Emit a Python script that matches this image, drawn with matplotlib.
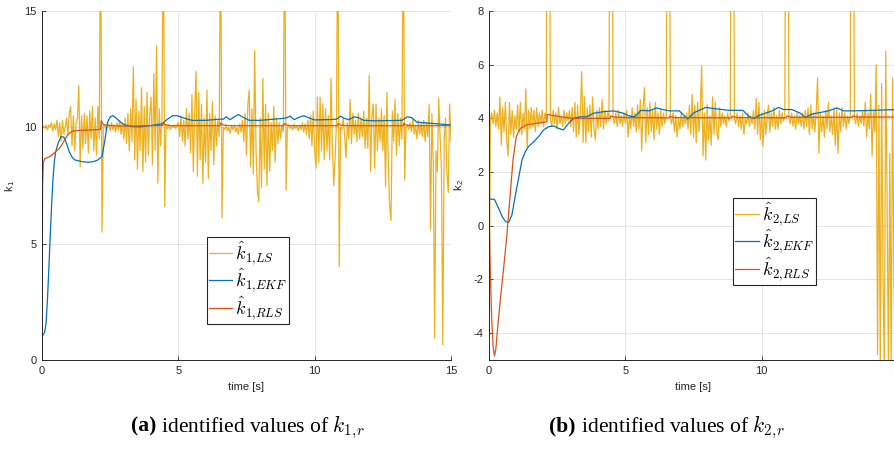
import numpy as np
import matplotlib
matplotlib.use('Agg')
import matplotlib.pyplot as plt
from matplotlib.offsetbox import TextArea, HPacker, AnchoredOffsetbox

plt.rcParams['font.family'] = ['Liberation Sans', 'DejaVu Sans']
plt.rcParams['mathtext.fontset'] = 'cm'
plt.rcParams['axes.unicode_minus'] = False

# least squares estimates, sampled every 0.05 s from 0 to 15 s
k1_ls = [
    10.0, 10.05, 9.95, 10.1, 9.9, 10.1, 10.0, 10.2, 9.85, 10.15, 9.9, 10.3, 9.6, 10.2, 9.4, 10.3, 9.7, 10.0, 10.4, 9.7,
    10.6, 10.9, 9.2, 10.5, 9.0, 10.2, 10.4, 11.8, 8.3, 10.5, 9.1, 10.6, 9.3, 10.5, 8.9, 10.7, 9.5, 10.9, 9.0, 10.4,
    8.8, 10.9, 9.5, 20.0, 5.5, 10.0, 10.1, 9.9, 10.05, 10.15, 9.85, 10.2, 9.9, 10.1, 9.8, 10.2, 9.9, 10.3, 9.7, 10.2,
    9.5, 10.4, 9.3, 10.6, 9.0, 10.8, 9.4, 12.6, 8.6, 11.2, 8.2, 10.7, 9.0, 11.7, 8.1, 10.9, 8.5, 11.5, 8.8, 10.5,
    11.3, 8.4, 12.3, 9.0, 13.5, 7.6, 10.8, 9.2, 10.4, 20.0, 6.6, 10.1, 9.95, 10.1, 9.9, 10.05, 10.0, 10.1, 9.95, 10.1,
    10.2, 9.6, 10.5, 9.4, 10.3, 9.2, 10.8, 9.5, 10.6, 8.9, 11.4, 8.1, 10.7, 12.4, 7.9, 11.5, 8.6, 11.0, 7.6, 10.4,
    8.5, 11.6, 7.8, 10.6, 9.0, 11.1, 8.4, 10.5, 9.2, 10.3, 9.6, 20.0, 6.1, 10.0, 9.9, 10.1, 9.85, 10.0, 9.75, 10.05,
    9.9, 10.1, 9.8, 10.0, 9.7, 10.15, 9.8, 10.3, 9.4, 10.6, 8.8, 11.0, 11.6, 8.3, 10.8, 8.0, 13.3, 9.0, 7.3, 6.8,
    10.4, 7.4, 12.1, 8.2, 11.0, 7.5, 10.6, 8.1, 10.2, 9.0, 10.9, 8.5, 10.4, 9.3, 10.2, 9.5, 10.1, 9.8, 20.0, 7.3,
    10.0, 10.1, 9.95, 10.05, 9.9, 10.15, 9.95, 10.05, 9.85, 10.1, 9.9, 10.2, 9.8, 10.15, 9.7, 10.3, 9.5, 10.5, 9.2, 10.7,
    9.0, 8.25, 11.3, 8.5, 11.3, 9.0, 11.0, 8.6, 10.8, 9.0, 10.5, 8.6, 12.1, 9.2, 7.5, 8.7, 10.3, 20.0, 4.0, 10.0,
    9.9, 10.4, 9.6, 8.7, 10.2, 9.5, 11.2, 9.3, 10.6, 9.7, 10.3, 9.4, 10.6, 9.5, 10.4, 9.6, 10.7, 9.1, 10.4, 9.1,
    12.25, 8.1, 10.5, 11.0, 8.25, 11.0, 9.0, 10.4, 9.4, 10.8, 9.0, 10.5, 7.45, 11.5, 8.5, 6.6, 6.0, 10.7, 9.4, 11.2,
    8.8, 10.6, 9.2, 10.4, 9.5, 20.0, 7.75, 10.0, 10.1, 9.9, 10.2, 9.8, 10.4, 9.7, 10.1, 9.5, 10.3, 9.7, 10.2, 9.6,
    10.3, 9.4, 10.2, 9.6, 11.0, 5.6, 10.6, 8.5, 0.95, 9.0, 8.1, 11.25, 9.6, 8.2, 0.65, 9.5, 10.4, 8.1, 7.2, 11.0,
    9.4,
]

k2_ls = [
    -6.0, 4.0, 4.2, 3.8, 4.3, 3.7, 4.2, 3.6, 4.8, 3.0, 4.4, 3.5, 4.6, 3.2, 2.6, 4.6, 3.4, 4.3, 3.3, 4.1,
    3.6, 4.5, 3.5, 4.6, 3.4, 4.2, 3.6, 5.1, 2.9, 4.3, 3.6, 4.4, 3.7, 4.3, 3.5, 4.4, 3.7, 4.2, 3.8, 4.3,
    3.7, 4.2, 3.9, 20.0, 20.0, 4.0, 3.7, 4.3, 3.8, 4.2, 3.6, 4.4, 3.8, 4.1, 3.7, 4.3, 3.8, 4.2, 3.9, 4.3,
    3.7, 4.4, 3.5, 4.6, 3.3, 4.5, 3.4, 4.2, 5.75, 3.1, 4.8, 3.1, 4.4, 3.5, 4.5, 3.3, 4.8, 3.6, 3.2, 4.3,
    3.6, 4.4, 3.7, 4.7, 3.6, 4.3, 3.8, 4.2, 3.9, 20.0, 20.0, 4.0, 3.8, 4.2, 3.7, 4.3, 3.8, 4.1, 3.7, 4.2,
    3.8, 4.3, 3.3, 4.1, 3.6, 4.4, 3.7, 4.2, 3.5, 4.5, 3.6, 4.7, 2.8, 4.4, 5.15, 3.1, 4.4, 3.4, 4.6, 3.5,
    4.3, 3.2, 4.6, 3.6, 4.2, 3.4, 4.3, 3.7, 4.2, 3.8, 4.1, 20.0, 20.0, 4.0, 3.8, 4.2, 3.5, 4.1, 3.3, 4.0,
    3.6, 4.2, 3.7, 4.1, 3.8, 4.2, 3.6, 4.5, 3.4, 4.9, 3.3, 4.5, 3.1, 4.6, 3.5, 4.4, 5.95, 2.6, 4.2, 2.45,
    4.5, 3.2, 4.1, 3.0, 4.8, 3.4, 4.6, 3.5, 3.2, 4.4, 3.7, 4.2, 3.8, 4.1, 3.7, 4.2, 3.9, 4.1, 20.0, 20.0,
    4.0, 3.8, 4.2, 3.7, 4.1, 3.6, 4.2, 3.4, 4.0, 3.8, 4.2, 3.7, 4.1, 3.8, 4.3, 3.6, 4.75, 3.4, 4.6, 3.2,
    4.2, 2.95, 4.3, 3.4, 4.1, 4.5, 3.5, 4.2, 3.7, 4.4, 3.6, 4.1, 3.6, 4.3, 3.8, 4.2, 3.9, 4.1, 20.0, 20.0,
    4.0, 3.8, 4.2, 3.7, 4.1, 3.6, 4.2, 3.8, 4.1, 3.7, 4.2, 3.6, 4.3, 3.7, 4.4, 3.4, 4.5, 3.6, 4.2, 3.5,
    4.3, 5.5, 2.7, 4.2, 3.5, 4.1, 3.3, 4.3, 3.6, 4.6, 3.5, 4.1, 3.4, 4.4, 3.0, 4.4, 2.7, 4.2, 3.5, 4.4,
    3.7, 4.2, 3.6, 4.1, 3.8, 4.1, 20.0, 20.0, 4.0, 3.8, 4.2, 3.7, 4.1, 3.8, 4.3, 3.7, 4.6, 3.3, 4.2, 3.6,
    4.9, 2.6, 4.3, 3.5, 6.0, -4.8, 4.5, -5.5, 5.3, -2.0, -5.5, 6.5, 1.0, -5.5, 2.7, -5.5, 5.5, -2.0, -5.5, 3.0,
    4.0,
]
t_ls = np.arange(len(k1_ls)) * 0.05

# extended kalman filter
t_ekf1 = [0, 0.1, 0.15, 0.2, 0.25, 0.3, 0.35, 0.4, 0.45, 0.5, 0.6, 0.7, 0.8, 0.9, 1.0, 1.1, 1.2, 1.35, 1.5,
          1.7, 1.9, 2.05, 2.2, 2.3, 2.4, 2.5, 2.6, 2.7, 2.85, 3.0, 3.3, 3.6, 4.0, 4.4, 4.6, 4.8, 4.95, 5.2,
          5.5, 6.0, 6.5, 6.65, 6.75, 6.9, 7.05, 7.2, 7.35, 7.6, 8.0, 8.5, 8.8, 8.95, 9.1, 9.25, 9.4, 9.6,
          9.8, 10.0, 10.5, 10.8, 10.95, 11.1, 11.25, 11.45, 11.6, 11.8, 12.2, 13.2, 13.4, 13.55, 13.75,
          14.0, 14.5, 15.0]
k1_ekf = [1.0, 1.2, 1.6, 2.6, 3.9, 5.3, 6.6, 7.7, 8.5, 8.95, 9.35, 9.6, 9.58, 9.3, 8.95, 8.72, 8.6, 8.56, 8.52,
          8.5, 8.53, 8.6, 8.75, 9.4, 10.2, 10.45, 10.5, 10.42, 10.25, 10.12, 10.03, 10.02, 10.08, 10.15,
          10.35, 10.5, 10.5, 10.4, 10.3, 10.3, 10.35, 10.35, 10.45, 10.33, 10.45, 10.55, 10.45, 10.3, 10.3,
          10.35, 10.38, 10.4, 10.48, 10.33, 10.42, 10.5, 10.4, 10.32, 10.33, 10.35, 10.48, 10.38, 10.33,
          10.45, 10.42, 10.3, 10.28, 10.3, 10.45, 10.42, 10.22, 10.2, 10.15, 10.1]

t_ekf2 = [0, 0.2, 0.35, 0.48, 0.6, 0.72, 0.84, 0.96, 1.09, 1.21, 1.33, 1.45, 1.64, 1.82, 2.0, 2.19, 2.37,
          2.55, 2.73, 2.92, 3.1, 3.34, 3.59, 3.83, 4.2, 4.57, 4.93, 5.15, 5.34, 5.58, 5.88, 6.13, 6.37, 6.62,
          6.98, 7.29, 7.53, 7.78, 7.96, 8.21, 8.45, 8.82, 9.31, 9.55, 9.73, 9.91, 10.13, 10.38, 10.62, 10.81,
          11.11, 11.42, 11.6, 11.84, 12.15, 12.45, 12.76, 13.0, 13.31, 13.8, 14.41, 15.0]
k2_ekf = [1.0, 0.98, 0.66, 0.35, 0.16, 0.12, 0.4, 1.1, 1.8, 2.45, 2.76, 2.95, 3.13, 3.32, 3.57, 3.69, 3.72,
          3.63, 3.57, 3.82, 4.0, 4.06, 4.06, 4.19, 4.25, 4.28, 4.19, 4.09, 4.06, 4.3, 4.28, 4.39, 4.33, 4.28,
          4.28, 3.98, 4.22, 4.33, 4.41, 4.37, 4.34, 4.3, 4.3, 4.06, 4.0, 4.12, 4.19, 4.28, 4.41, 4.33,
          4.33, 4.19, 4.03, 4.16, 4.22, 4.28, 4.39, 4.28, 4.28, 4.29, 4.31, 4.33]

# recursive least squares
t_rls1 = [0, 0.02, 0.05, 0.1, 0.2, 0.3, 0.4, 0.5, 0.6, 0.7, 0.8, 0.9, 1.0, 1.1, 1.2, 1.4, 1.7, 2.0, 2.15, 2.17,
          2.25, 2.4, 3.0, 4.0, 4.43, 4.45, 4.55, 4.8, 6.53, 6.55, 6.65, 6.9, 8.87, 8.89, 8.99, 9.2, 10.84,
          10.86, 10.96, 11.2, 13.25, 13.27, 13.37, 13.6, 15.0]
k1_rls = [0, 7.5, 8.5, 8.65, 8.7, 8.75, 8.85, 8.95, 9.05, 9.2, 9.4, 9.6, 9.75, 9.82, 9.85, 9.87, 9.88, 9.9,
          9.92, 10.28, 10.12, 10.08, 10.05, 10.07, 10.08, 10.18, 10.1, 10.07, 10.07, 10.18, 10.1, 10.07,
          10.07, 10.17, 10.09, 10.07, 10.07, 10.17, 10.09, 10.07, 10.07, 10.17, 10.09, 10.07, 10.07]

t_rls2 = [0, 0.05, 0.1, 0.15, 0.2, 0.25, 0.3, 0.41, 0.54, 0.66, 0.78, 0.88, 1.0, 1.15, 1.39, 1.76, 2.12, 2.14,
          2.3, 2.61, 3.1, 4.44, 4.46, 4.6, 5.0, 6.6, 6.62, 6.8, 8.9, 8.92, 9.1, 10.9, 10.92, 11.1, 13.32,
          13.34, 13.5, 15.0]
k2_rls = [0.5, -1.8, -3.5, -4.5, -4.85, -4.6, -4.0, -2.8, -1.55, -0.3, 1.2, 2.45, 3.32, 3.63, 3.76, 3.82,
          3.87, 4.15, 4.12, 4.06, 4.0, 4.0, 4.09, 4.05, 4.03, 4.02, 4.08, 4.03, 4.02, 4.08, 4.03, 4.02, 4.09,
          4.04, 4.04, 4.09, 4.05, 4.05]

c_ls = '#EDB120'
c_ekf = '#0072BD'
c_rls = '#D95319'
dark = '#262626'


def style_axes(ax, ylim, yticks, ylabel):
    ax.set_xlim(0, 15)
    ax.set_ylim(*ylim)
    ax.set_xticks([0, 5, 10, 15])
    ax.set_yticks(yticks)
    ax.grid(True, color='#e3e3e3', linewidth=0.7)
    ax.set_axisbelow(True)
    for side in ['top', 'right']:
        ax.spines[side].set_visible(False)
    for side in ['left', 'bottom']:
        ax.spines[side].set_color(dark)
        ax.spines[side].set_linewidth(0.7)
    ax.tick_params(direction='in', length=3, width=0.6, colors=dark, labelsize=8, pad=4)
    ax.set_xlabel('time [s]', fontsize=8, color=dark, labelpad=5)
    ax.set_ylabel(ylabel, fontsize=8, color=dark, labelpad=5)


def draw_panel(ax, ls, t_ekf, ekf, t_rls, rls, idx, legend_pos):
    ax.plot(t_ls, ls, color=c_ls, linewidth=0.9, label=r'$\hat{k}_{%d,\!LS}$' % idx)
    ax.plot(t_ekf, ekf, color=c_ekf, linewidth=0.9, label=r'$\hat{k}_{%d,\!EKF}$' % idx)
    ax.plot(t_rls, rls, color=c_rls, linewidth=0.9, label=r'$\hat{k}_{%d,\!RLS}$' % idx)
    leg = ax.legend(loc='upper left', bbox_to_anchor=legend_pos, fontsize=13, fancybox=False,
                    framealpha=1, edgecolor=dark, handlelength=1.3, handletextpad=0.15,
                    labelspacing=0.0, borderpad=0.12, borderaxespad=0)
    leg.get_frame().set_linewidth(0.8)


def add_caption(fig, x, y, tag, sub):
    cap = dict(family='Liberation Serif', fontsize=15.5, color='black')
    box = HPacker(children=[TextArea(tag, textprops=dict(fontweight='bold', **cap)),
                            TextArea(r' identified values of $k_{%d,\!r}$' % sub, textprops=cap)],
                  align='baseline', pad=0, sep=0)
    anchored = AnchoredOffsetbox(loc='center', child=box, bbox_to_anchor=(x, y),
                                 bbox_transform=fig.transFigure, frameon=False, pad=0, borderpad=0)
    fig.add_artist(anchored)


fig = plt.figure(figsize=(8.95, 4.5), dpi=100)
ax1 = fig.add_axes([42 / 895, 1 - 360 / 450, 409 / 895, 349 / 450])
ax2 = fig.add_axes([489 / 895, 1 - 360 / 450, 409 / 895, 349 / 450])

draw_panel(ax1, k1_ls, t_ekf1, k1_ekf, t_rls1, k1_rls, 1, (0.403, 0.352))
style_axes(ax1, (0, 15), [0, 5, 10, 15], r'k$_\mathregular{1}$')

draw_panel(ax2, k2_ls, t_ekf2, k2_ekf, t_rls2, k2_rls, 2, (0.597, 0.464))
style_axes(ax2, (-5, 8), [-4, -2, 0, 2, 4, 6, 8], r'k$_\mathregular{2}$')

add_caption(fig, 248 / 895, 1 - 427 / 450, '(a)', 1)
add_caption(fig, 667 / 895, 1 - 427 / 450, '(b)', 2)

fig.savefig('out.png', dpi=100)
